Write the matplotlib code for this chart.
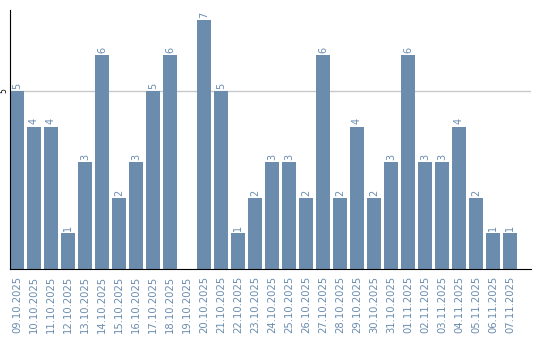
import matplotlib
matplotlib.use("Agg")
import matplotlib.pyplot as plt
import numpy as np

dates = ["09.10.2025", "10.10.2025", "11.10.2025", "12.10.2025", "13.10.2025",
         "14.10.2025", "15.10.2025", "16.10.2025", "17.10.2025", "18.10.2025",
         "19.10.2025", "20.10.2025", "21.10.2025", "22.10.2025", "23.10.2025",
         "24.10.2025", "25.10.2025", "26.10.2025", "27.10.2025", "28.10.2025",
         "29.10.2025", "30.10.2025", "31.10.2025", "01.11.2025", "02.11.2025",
         "03.11.2025", "04.11.2025", "05.11.2025", "06.11.2025", "07.11.2025"]
counts = [5, 4, 4, 1, 3, 6, 2, 3, 5, 6,
          0, 7, 5, 1, 2, 3, 3, 2, 6, 2,
          4, 2, 3, 6, 3, 3, 4, 2, 1, 1]

bar_color = "#6b8cad"
text_color = "#6a8caf"

fig = plt.figure(figsize=(5.4, 3.4), dpi=100)
ax = fig.add_axes([10/540, 71/340, 521/540, 259/340])

x = np.arange(len(dates))
ax.bar(x, counts, width=14/17, color=bar_color, zorder=2)

for xi, v in zip(x, counts):
    if v > 0:
        ax.text(xi, v + 0.06, str(v), rotation=90, ha="center", va="bottom",
                fontsize=7, color=text_color)

ax.set_xlim(-7/17, 30.24)
ax.set_ylim(0, 259/35.6)

ax.set_xticks(x)
ax.set_xticklabels(dates, rotation=90, fontsize=7.2, color=text_color)
ax.set_yticks([5])
ax.set_yticklabels(["5"], rotation=90, fontsize=5.5, va="center")
ax.tick_params(axis="both", length=0)
ax.tick_params(axis="x", pad=5)
ax.tick_params(axis="y", pad=1)

ax.axhline(5, color="#c8c8c8", linewidth=1, zorder=1)
for s in ["top", "right"]:
    ax.spines[s].set_visible(False)
ax.spines["left"].set_color("black")
ax.spines["bottom"].set_color("black")

fig.savefig("out.png", dpi=100)
